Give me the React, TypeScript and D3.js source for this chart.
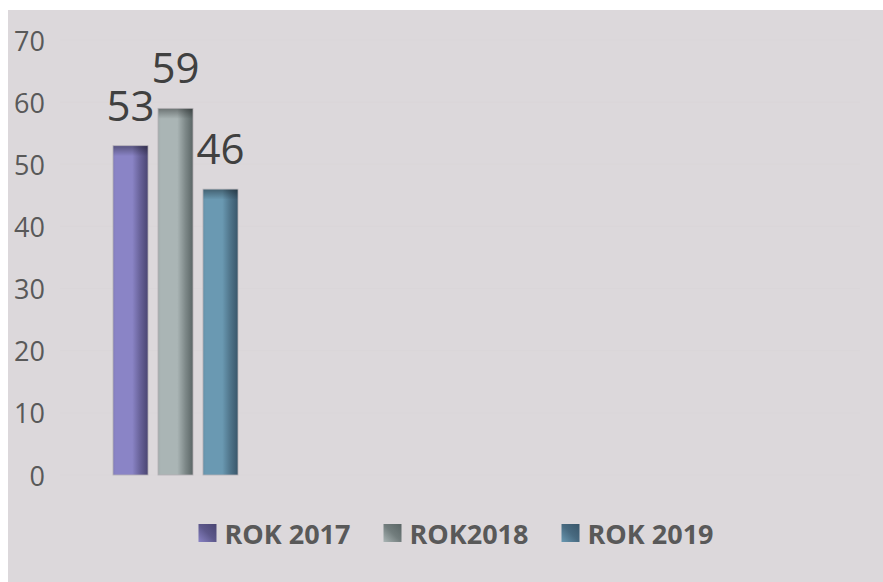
import React, { useEffect, useRef } from "react";
import * as d3 from "d3";

const categories = ["Kategoria 1"];
const seriesNames = ["ROK 2017", "ROK2018", "ROK 2019"];
const values2017 = [53];
const values2018 = [59];
const values2019 = [46];
const yTicks = [0, 10, 20, 30, 40, 50, 60, 70];

const seriesValues = [values2017, values2018, values2019];
const baseColors = ["#8a84c6", "#aab5b5", "#6a99b2"];
const darkColors = ["#4a4572", "#5a6565", "#39566a"];

const W = 883;
const H = 582;

export default function App() {
  const ref = useRef<SVGSVGElement>(null);

  useEffect(() => {
    const svg = d3.select(ref.current);
    svg.selectAll("*").remove();

    const defs = svg.append("defs");
    seriesNames.forEach((_, i) => {
      const g = defs
        .append("linearGradient")
        .attr("id", `bar${i}`)
        .attr("x1", "0")
        .attr("y1", "0")
        .attr("x2", "1")
        .attr("y2", "0");
      g.append("stop").attr("offset", "0").attr("stop-color", d3.color(baseColors[i])!.darker(0.15).toString());
      g.append("stop").attr("offset", "0.08").attr("stop-color", baseColors[i]);
      g.append("stop").attr("offset", "0.55").attr("stop-color", baseColors[i]);
      g.append("stop").attr("offset", "0.78").attr("stop-color", d3.interpolateRgb(baseColors[i], darkColors[i])(0.55));
      g.append("stop").attr("offset", "1").attr("stop-color", darkColors[i]);

      const lg = defs
        .append("linearGradient")
        .attr("id", `leg${i}`)
        .attr("x1", "1")
        .attr("y1", "0")
        .attr("x2", "0")
        .attr("y2", "1");
      lg.append("stop").attr("offset", "0").attr("stop-color", darkColors[i]);
      lg.append("stop").attr("offset", "0.5").attr("stop-color", d3.interpolateRgb(darkColors[i], baseColors[i])(0.3));
      lg.append("stop").attr("offset", "1").attr("stop-color", baseColors[i]);
    });
    const topG = defs
      .append("linearGradient")
      .attr("id", "topShade")
      .attr("x1", "0")
      .attr("y1", "0")
      .attr("x2", "0")
      .attr("y2", "1");
    topG.append("stop").attr("offset", "0").attr("stop-color", "#000").attr("stop-opacity", 0.35);
    topG.append("stop").attr("offset", "1").attr("stop-color", "#000").attr("stop-opacity", 0);

    svg
      .append("rect")
      .attr("x", 8)
      .attr("y", 10)
      .attr("width", W - 8)
      .attr("height", H - 10)
      .attr("fill", "#dcd8db");

    const y = d3.scaleLinear().domain([0, 70]).range([475, 40]);
    const x0 = d3.scaleBand<string>().domain(categories).range([105, 246]).padding(0);
    const x1 = d3
      .scaleBand<string>()
      .domain(seriesNames)
      .range([0, x0.bandwidth()])
      .paddingInner(0.222)
      .paddingOuter(0.178);

    // very faint gridlines
    svg
      .append("g")
      .selectAll("line")
      .data(yTicks)
      .join("line")
      .attr("x1", 60)
      .attr("x2", 860)
      .attr("y1", (d) => y(d))
      .attr("y2", (d) => y(d))
      .attr("stroke", "#dad6d9")
      .attr("stroke-width", 1);

    svg
      .append("g")
      .selectAll("text")
      .data(yTicks)
      .join("text")
      .attr("x", 45)
      .attr("y", (d) => y(d))
      .attr("text-anchor", "end")
      .attr("dominant-baseline", "central")
      .attr("font-family", "'Open Sans', sans-serif")
      .attr("font-size", 27)
      .attr("fill", "#595959")
      .text((d) => String(d));

    const bars = svg.append("g");
    categories.forEach((cat, ci) => {
      seriesNames.forEach((s, si) => {
        const v = seriesValues[si][ci];
        const bx = x0(cat)! + x1(s)!;
        const bw = x1.bandwidth();
        const by = y(v);
        const bh = y(0) - y(v);
        bars
          .append("rect")
          .attr("x", bx)
          .attr("y", by)
          .attr("width", bw)
          .attr("height", bh)
          .attr("fill", `url(#bar${si})`)
          .attr("stroke", "#b4b0b4")
          .attr("stroke-width", 0.8);
        bars
          .append("rect")
          .attr("x", bx + 0.5)
          .attr("y", by + 0.5)
          .attr("width", bw - 1)
          .attr("height", 10)
          .attr("fill", "url(#topShade)");
        bars
          .append("text")
          .attr("x", bx + bw / 2)
          .attr("y", by - 25)
          .attr("text-anchor", "middle")
          .attr("font-family", "'Open Sans', sans-serif")
          .attr("font-size", 42)
          .attr("fill", "#404040")
          .text(String(v));
      });
    });

    // legend
    const legend = svg.append("g");
    const sq = 18;
    const gapSqText = 8;
    const gapItems = 33;
    const items = seriesNames.map((name, i) => {
      const t = legend
        .append("text")
        .attr("font-family", "'Open Sans', sans-serif")
        .attr("font-weight", "bold")
        .attr("font-size", 27)
        .attr("fill", "#595959")
        .attr("dominant-baseline", "central")
        .text(name);
      const w = (t.node() as SVGTextElement).getComputedTextLength();
      return { t, w, i };
    });
    const total =
      items.reduce((a, it) => a + sq + gapSqText + it.w, 0) + gapItems * (items.length - 1);
    let cx = 456 - total / 2;
    const ly = 533;
    items.forEach((it) => {
      legend
        .append("rect")
        .attr("x", cx)
        .attr("y", ly - sq / 2)
        .attr("width", sq)
        .attr("height", sq)
        .attr("fill", `url(#leg${it.i})`);
      it.t.attr("x", cx + sq + gapSqText).attr("y", ly);
      cx += sq + gapSqText + it.w + gapItems;
    });
  }, []);

  return (
    <svg
      ref={ref}
      width={W}
      height={H}
      style={{ position: "absolute", left: 0, top: 0, display: "block" }}
    />
  );
}
